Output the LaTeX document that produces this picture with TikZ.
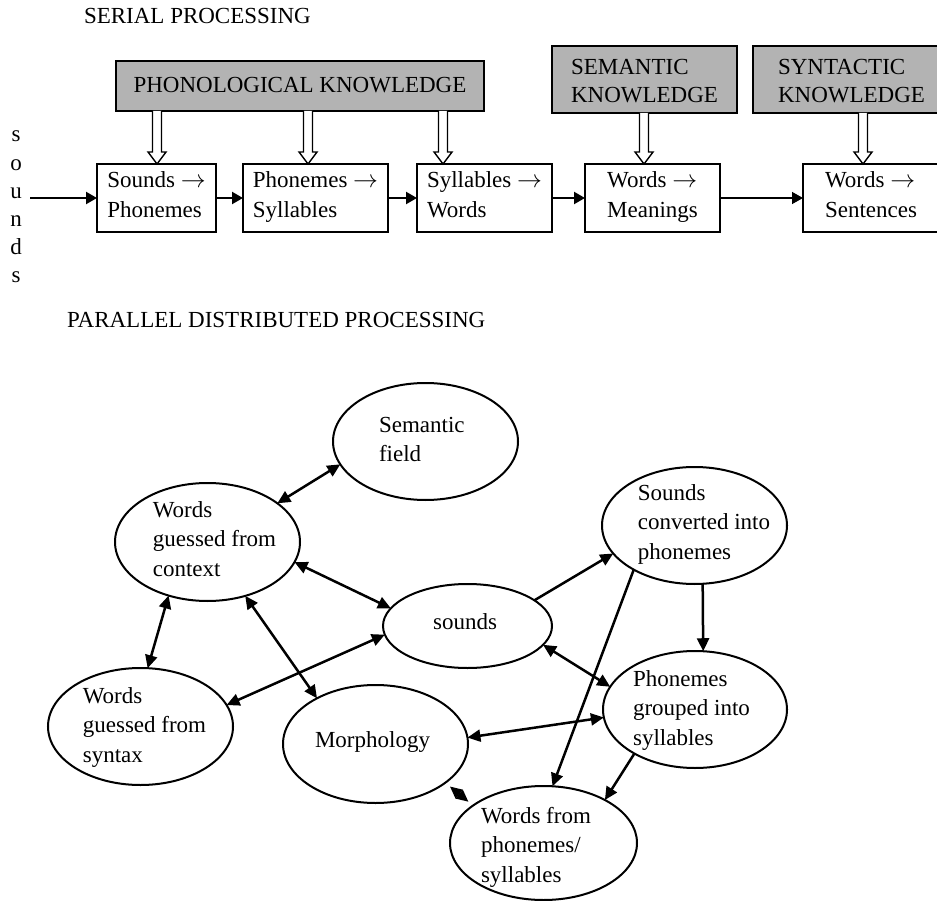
\documentclass[tikz,border=0pt]{standalone}
\usepackage{fontspec}
\setmainfont{Liberation Serif}
\usetikzlibrary{arrows.meta,shapes.geometric,calc}
\definecolor{kgray}{RGB}{179,179,179}
% invisible strut: height #1 pt, depth #2 pt
\newcommand\zs[2]{\rule[-#2pt]{0pt}{\dimexpr #1pt+#2pt\relax}}

\begin{document}
\begin{tikzpicture}[x=1pt,y=-1pt,
  every node/.style={inner sep=0pt, outer sep=0pt},
  heading/.style={anchor=base west, font=\fontsize{23pt}{28pt}\selectfont},
  knowbox/.style={draw, line width=2pt, fill=kgray, align=left,
    font=\fontsize{23pt}{28pt}\selectfont},
  stagebox/.style={draw, line width=2pt, fill=white, align=left,
    minimum height=68pt, font=\fontsize{23pt}{30pt}\selectfont},
  ell/.style={ellipse, draw, line width=2pt},
  lbl/.style={align=left, font=\fontsize{23pt}{29.5pt}\selectfont},
  flow/.style={-{Triangle[length=11pt,width=12pt]}, line width=2.2pt},
  link/.style={{Triangle[length=13pt,width=12pt]}-{Triangle[length=13pt,width=12pt]}, line width=2.5pt},
  oneway/.style={-{Triangle[length=13pt,width=12pt]}, line width=2.5pt},
  hollow/.style={draw, fill=white, line width=1.4pt, line join=miter},
]
\clip (0,0) rectangle (937,901);

% ---------------- serial processing ----------------
\node[heading] (serial) at (84,24) {SERIAL PROCESSING};

\node[knowbox, minimum width=368pt, minimum height=50pt] (phon) at (300,86)
  {\zs{21}{7}PHONOLOGICAL KNOWLEDGE};
\node[knowbox, minimum width=185pt, minimum height=67pt] (semk) at (644.5,79.5)
  {\zs{23}{4}SEMANTIC\\\zs{23}{4}KNOWLEDGE};
\node[knowbox, minimum width=197pt, minimum height=67pt] (synk) at (851.5,79.5)
  {\zs{23}{4}SYNTACTIC\\\zs{23}{4}KNOWLEDGE};

\node[stagebox, minimum width=119pt] (b1) at (156.5,198)
  {\zs{19.5}{10.5}Sounds $\rightarrow$\\\zs{19.5}{10.5}Phonemes};
\node[stagebox, minimum width=145pt] (b2) at (315.5,198)
  {\zs{19.5}{10.5}Phonemes $\rightarrow$\\\zs{19.5}{10.5}Syllables};
\node[stagebox, minimum width=135pt] (b3) at (484.5,198)
  {\zs{19.5}{10.5}Syllables $\rightarrow$\\\zs{19.5}{10.5}Words};
\node[stagebox, minimum width=135pt] (b4) at (652.5,198)
  {\zs{19.5}{10.5}Words $\rightarrow$\\\zs{19.5}{10.5}Meanings};
\node[stagebox, minimum width=136pt] (b5) at (871,198)
  {\zs{19.5}{10.5}Words $\rightarrow$\\\zs{19.5}{10.5}Sentences};

% hollow knowledge arrows
\foreach \src/\dst/\dx in {phon/b1/0.5, phon/b2/-7.5, phon/b3/-41.5, semk/b4/-8.5, synk/b5/-8}
  \draw[hollow] let \p1=(\src.south), \p2=([xshift=\dx pt]\dst.north) in
    (\x2-4.5pt,\y1) -- (\x2-4.5pt,\y2+12pt) -- (\x2-9pt,\y2+12pt) -- (\x2,\y2)
    -- (\x2+9pt,\y2+12pt) -- (\x2+4.5pt,\y2+12pt) -- (\x2+4.5pt,\y1);

% vertical input word
\node[font=\fontsize{23pt}{28.2pt}\selectfont, align=center] (sndcol) at (16,207.5)
  {\zs{19}{9.2}s\\\zs{19}{9.2}o\\\zs{19}{9.2}u\\\zs{19}{9.2}n\\\zs{19}{9.2}d\\\zs{19}{9.2}s};
\coordinate (sin) at (30,198);

\draw[flow] (sin) -- (b1);
\draw[flow] (b1) -- (b2);
\draw[flow] (b2) -- (b3);
\draw[flow] (b3) -- (b4);
\draw[flow, line width=1.4pt] (b4) -- (b5);

% ---------------- parallel distributed processing ----------------
\node[heading] (pdp) at (67,327) {PARALLEL DISTRIBUTED PROCESSING};

\node[ell, minimum width=185pt, minimum height=117pt] (sem)  at (425.5,441.5) {};
\node[ell, minimum width=185pt, minimum height=118pt] (ctx)  at (207.5,542) {};
\node[ell, minimum width=169pt, minimum height=84pt]  (snd)  at (467.5,626) {};
\node[ell, minimum width=185pt, minimum height=117pt] (conv) at (694.5,525.5) {};
\node[ell, minimum width=185pt, minimum height=117pt] (syn)  at (140.5,726.5) {};
\node[ell, minimum width=185pt, minimum height=118pt] (mor)  at (375.5,744) {};
\node[ell, minimum width=184pt, minimum height=117pt] (grp)  at (695,709.5) {};
\node[ell, minimum width=187pt, minimum height=114pt] (wp)   at (543.5,843) {};

\node[lbl] (sem-t)  at (421.8,442) {\zs{19.5}{10}Semantic\\\zs{19.5}{10}field};
\node[lbl] (ctx-t)  at (214.5,542) {\zs{19.5}{10}Words\\\zs{19.5}{10}guessed from\\\zs{19.5}{10}context};
\node[lbl] (snd-t)  at (465,625) {\zs{19.5}{10}sounds};
\node[lbl] (conv-t) at (704,525) {\zs{19.5}{10}Sounds\\\zs{19.5}{10}converted into\\\zs{19.5}{10}phonemes};
\node[lbl] (syn-t)  at (144.5,728) {\zs{19.5}{10}Words\\\zs{19.5}{10}guessed from\\\zs{19.5}{10}syntax};
\node[lbl] (mor-t)  at (372.5,743) {\zs{19.5}{10}Morphology};
\node[lbl] (grp-t)  at (691.5,711) {\zs{19.5}{10}Phonemes\\\zs{19.5}{10}grouped into\\\zs{19.5}{10}syllables};
\node[lbl] (wp-t)   at (536,848) {\zs{19.5}{10}Words from\\\zs{19.5}{10}phonemes/\\\zs{19.5}{10}syllables};

% connections
\draw[link]   (sem.195.4)  -- (ctx.29.1);
\draw[link]   (ctx.347)    -- (snd.167.5);
\draw[link]   (ctx.234.7)  -- (syn.83.7);
\draw[link]   (ctx.305.3)  -- (mor.142.8);
\draw[link]   (snd.186.2)  -- (syn.14.8);
\draw[oneway] (snd.21.1)   -- (conv.199.1);
\draw[oneway] (conv.278.3) -- (grp.82.2);
\draw[oneway] (conv.216.3) -- (wp.81.5);
\draw[link]   (snd.346.6)  -- (grp.165.2);
\draw[link]   (mor.4.4)    -- (grp.185.9);
\draw[oneway] (grp.216.3)  -- (wp.35.9);
% short link whose two heads meet in a diamond
\draw[{Triangle[length=12pt,width=11pt]}-{Triangle[length=12pt,width=11pt]}, line width=2pt,
      shorten <=6pt, shorten >=6pt]
      (mor.331.2)  -- (wp.152.1);
\end{tikzpicture}
\end{document}
